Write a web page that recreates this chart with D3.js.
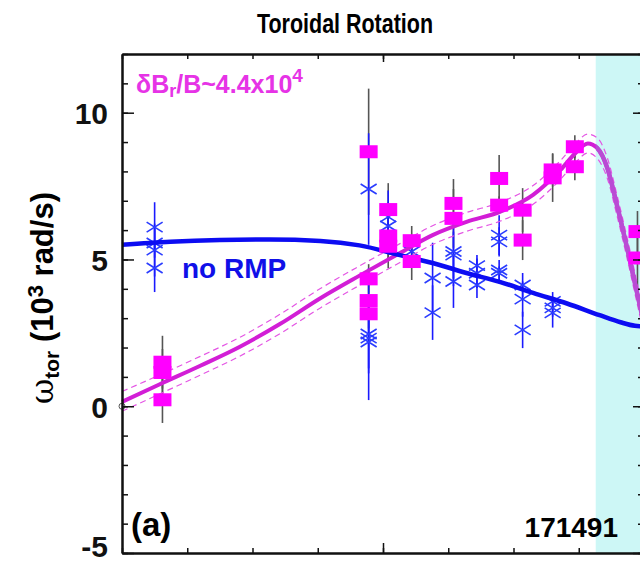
<!DOCTYPE html>
<html>
<head>
<meta charset="utf-8">
<script src="https://cdn.jsdelivr.net/npm/d3@7"></script>
<style>
  body { margin: 0; background: #fff; }
  svg { display: block; font-family: 'Liberation Sans', Arial, Helvetica, sans-serif; font-weight: bold; }
</style>
</head>
<body>
<div id="chart"></div>
<script>
'use strict'

// fitted profiles, x is normalized flux
var fitRmpPsi = [0.600, 0.629, 0.660, 0.690, 0.721, 0.752, 0.782, 0.813, 0.838, 0.864, 0.890, 0.915, 0.936, 0.947, 0.957, 0.964, 0.972, 0.979, 0.987, 0.994, 1.000]
var fitRmp = [0.15, 0.75, 1.38, 2.02, 2.8, 3.68, 4.45, 5.22, 5.83, 6.28, 6.63, 7.2, 8.05, 8.6, 8.95, 8.8, 8.1, 6.9, 5.4, 4.0, 2.8]
var fitRmpHi = [0.5, 1.07, 1.7, 2.34, 3.13, 4.01, 4.78, 5.54, 6.15, 6.6, 6.95, 7.52, 8.37, 8.92, 9.27, 9.15, 8.45, 7.25, 5.75, 4.35, 3.15]
var fitRmpLo = [-0.17, 0.42, 1.06, 1.7, 2.47, 3.35, 4.12, 4.9, 5.51, 5.96, 6.31, 6.88, 7.73, 8.28, 8.63, 8.45, 7.75, 6.55, 5.05, 3.65, 2.45]

var fitNoRmpPsi = [0.600, 0.637, 0.675, 0.713, 0.752, 0.782, 0.813, 0.838, 0.864, 0.890, 0.915, 0.941, 0.966, 0.982, 0.993, 1.000]
var fitNoRmp = [5.5, 5.6, 5.66, 5.68, 5.63, 5.48, 5.15, 4.88, 4.54, 4.23, 3.86, 3.5, 3.1, 2.86, 2.74, 2.72]

// measured points, no RMP (blue asterisks)
var noRmpPsi = [0.625, 0.625, 0.625, 0.625, 0.789, 0.789, 0.789, 0.789, 0.804, 0.804, 0.822, 0.838, 0.838, 0.854, 0.854, 0.854, 0.872, 0.872, 0.872, 0.889, 0.889, 0.889, 0.889, 0.907, 0.907, 0.907, 0.930, 0.930, 0.930]
var noRmpOmega = [6.10, 5.56, 5.32, 4.71, 7.40, 2.46, 2.32, 2.19, 6.45, 6.14, 5.27, 4.37, 3.19, 5.27, 5.15, 4.25, 4.79, 4.53, 4.13, 5.83, 5.60, 4.64, 4.53, 4.13, 3.65, 2.60, 3.57, 3.35, 3.18]
var noRmpErr = [0.85, 0.5, 0.9, 0.82, 1.9, 2.25, 1.2, 0.9, 0.9, 0.8, 0.4, 1.2, 0.93, 1.18, 0.8, 0.9, 0.36, 0.5, 0.44, 0.68, 0.5, 0.34, 0.23, 0.41, 0.6, 0.62, 0.32, 0.3, 0.5]

// measured points with RMP (magenta squares)
var rmpPsi = [0.631, 0.631, 0.631, 0.789, 0.789, 0.789, 0.789, 0.804, 0.804, 0.804, 0.822, 0.822, 0.854, 0.854, 0.889, 0.889, 0.907, 0.907, 0.930, 0.930, 0.947, 0.947, 0.995, 0.995]
var rmpOmega = [1.50, 1.15, 0.22, 8.67, 4.34, 3.60, 3.15, 6.70, 5.80, 5.45, 5.64, 4.93, 6.91, 6.40, 7.76, 6.85, 6.68, 5.66, 8.05, 7.78, 8.84, 8.16, 5.95, 5.05]
var rmpErr = [0.9, 0.8, 0.79, 2.15, 0.5, 0.6, 0.5, 0.9, 0.8, 0.75, 0.5, 0.63, 0.83, 1.0, 0.8, 0.3, 0.75, 0.68, 0.57, 0.82, 0.39, 0.46, 0.7, 0.98]

var originPoint = [0.6, 0]
var edgeRegion = [0.963, 1.0]

var yMajorTicks = [-5, 0, 5, 10]
var xMajorTicks = [0.8]

var margin = { top: 54, right: 0, bottom: 10, left: 122 }
var width = 522
var height = 499

var svg = d3
  .select('#chart')
  .append('svg')
  .attr('width', 640)
  .attr('height', 563)

var g = svg
  .append('g')
  .attr('transform', 'translate(' + margin.left + ',' + margin.top + ')')

var x = d3
  .scaleLinear()
  .domain([0.6, 1.0])
  .range([0, width])

var y = d3
  .scaleLinear()
  .domain([-5, 12])
  .range([height, 0])

// shaded edge region
g.append('rect')
  .attr('x', x(edgeRegion[0]))
  .attr('y', 0)
  .attr('width', x(edgeRegion[1]) - x(edgeRegion[0]))
  .attr('height', height)
  .attr('fill', '#cdf7f6')

g.append('clipPath')
  .attr('id', 'edgeClip')
  .append('rect')
  .attr('x', x(edgeRegion[0]))
  .attr('y', 0)
  .attr('width', x(edgeRegion[1]) - x(edgeRegion[0]))
  .attr('height', height)

function zip(xs, ys) {
  return xs.map(function(v, i) {
    return [v, ys[i]]
  })
}

var line = d3
  .line()
  .x(function(d) {
    return x(d[0])
  })
  .y(function(d) {
    return y(d[1])
  })
  .curve(d3.curveMonotoneX)

function points(ps, os, es) {
  return ps.map(function(p, i) {
    return { psi: p, omega: os[i], err: es[i] }
  })
}
var noRmpData = points(noRmpPsi, noRmpOmega, noRmpErr)
var rmpData = points(rmpPsi, rmpOmega, rmpErr)

// error bars
g.selectAll('.errRmp')
  .data(rmpData)
  .enter()
  .append('line')
  .attr('class', 'errRmp')
  .attr('x1', function(d) { return x(d.psi) })
  .attr('x2', function(d) { return x(d.psi) })
  .attr('y1', function(d) { return y(d.omega - d.err) })
  .attr('y2', function(d) { return y(d.omega + d.err) })
  .attr('stroke', '#555')
  .attr('stroke-width', 1.6)

g.selectAll('.errNo')
  .data(noRmpData)
  .enter()
  .append('line')
  .attr('class', 'errNo')
  .attr('x1', function(d) { return x(d.psi) })
  .attr('x2', function(d) { return x(d.psi) })
  .attr('y1', function(d) { return y(d.omega - d.err) })
  .attr('y2', function(d) { return y(d.omega + d.err) })
  .attr('stroke', '#1a1aff')
  .attr('stroke-width', 1.6)

g.selectAll('.star')
  .data(noRmpData)
  .enter()
  .append('path')
  .attr('class', 'star')
  .attr('transform', function(d) {
    return 'translate(' + x(d.psi) + ',' + y(d.omega) + ')'
  })
  .attr('d', 'M-8,-5L8,5M-8,5L8,-5')
  .attr('stroke', '#2a3cff')
  .attr('stroke-width', 1.6)
  .attr('fill', 'none')

// magenta fit with its uncertainty band
;[fitRmpHi, fitRmpLo].forEach(function(band) {
  g.append('path')
    .datum(zip(fitRmpPsi, band))
    .attr('d', line)
    .attr('fill', 'none')
    .attr('stroke', '#e455e4')
    .attr('stroke-width', 1.2)
    .attr('stroke-dasharray', '6,4')
})

g.append('path')
  .datum(zip(fitRmpPsi, fitRmp))
  .attr('d', line)
  .attr('fill', 'none')
  .attr('stroke', '#d21ed6')
  .attr('stroke-width', 4)

// the fit looks more violet over the shaded band
g.append('path')
  .datum(zip(fitRmpPsi, fitRmp))
  .attr('d', line)
  .attr('clip-path', 'url(#edgeClip)')
  .attr('fill', 'none')
  .attr('stroke', '#b94bd4')
  .attr('stroke-width', 4.5)

g.append('path')
  .datum(zip(fitNoRmpPsi, fitNoRmp))
  .attr('d', line)
  .attr('fill', 'none')
  .attr('stroke', '#0c0cf2')
  .attr('stroke-width', 4.5)

g.selectAll('.sq')
  .data(rmpData)
  .enter()
  .append('rect')
  .attr('class', 'sq')
  .attr('x', function(d) { return x(d.psi) - 9 })
  .attr('y', function(d) { return y(d.omega) - 6.5 })
  .attr('width', 18)
  .attr('height', 13)
  .attr('fill', '#ff00ff')

g.append('circle')
  .attr('cx', x(originPoint[0]))
  .attr('cy', y(originPoint[1]))
  .attr('r', 3)
  .attr('fill', 'none')
  .attr('stroke', '#555')
  .attr('stroke-width', 1)

// axes, ticks pointing inward
function styleAxis(sel) {
  sel.select('.domain').attr('stroke', '#111').attr('stroke-width', 2)
  sel.selectAll('.tick line').attr('stroke', '#111').attr('stroke-width', 1.5)
  sel.selectAll('text').attr('font-size', '30px').attr('fill', '#111')
}

var yMinor = d3.range(-5, 13, 1)
var xMinor = d3.range(0.6, 1.001, 0.05)

g.append('g')
  .call(d3.axisLeft(y).tickValues(yMinor).tickSize(-6).tickSizeOuter(0).tickFormat(''))
  .call(styleAxis)
g.append('g')
  .call(
    d3
      .axisLeft(y)
      .tickValues(yMajorTicks)
      .tickSize(-12)
      .tickSizeOuter(0)
      .tickPadding(14)
      .tickFormat(function(d) {
        return String(d)
      })
  )
  .call(styleAxis)
  .selectAll('text')
  .attr('dy', function(d) {
    // the lowest label would run off the bottom edge
    return d === -5 ? '0.12em' : '0.36em'
  })

g.append('g')
  .attr('transform', 'translate(' + width + ',0)')
  .call(d3.axisRight(y).tickValues(yMinor).tickSize(-6).tickSizeOuter(0).tickFormat(''))
  .call(styleAxis)
g.append('g')
  .attr('transform', 'translate(' + width + ',0)')
  .call(d3.axisRight(y).tickValues(yMajorTicks).tickSize(-11).tickSizeOuter(0).tickFormat(''))
  .call(styleAxis)

g.append('g')
  .attr('transform', 'translate(0,' + height + ')')
  .call(d3.axisBottom(x).tickValues(xMinor).tickSize(-5).tickSizeOuter(0).tickFormat(''))
  .call(styleAxis)
g.append('g')
  .attr('transform', 'translate(0,' + height + ')')
  .call(d3.axisBottom(x).tickValues(xMajorTicks).tickSize(-10).tickSizeOuter(0).tickFormat(''))
  .call(styleAxis)

g.append('g')
  .call(d3.axisTop(x).tickValues(xMinor).tickSize(-5).tickSizeOuter(0).tickFormat(''))
  .call(styleAxis)
g.append('g')
  .call(d3.axisTop(x).tickValues(xMajorTicks).tickSize(-8).tickSizeOuter(0).tickFormat(''))
  .call(styleAxis)

// labels
svg.append('text')
  .attr('x', 345)
  .attr('y', 33)
  .attr('text-anchor', 'middle')
  .attr('font-size', '27px')
  .attr('textLength', 176)
  .attr('lengthAdjust', 'spacingAndGlyphs')
  .text('Toroidal Rotation')

var yl = svg
  .append('text')
  .attr('transform', 'translate(53,298) rotate(-90)')
  .attr('text-anchor', 'middle')
  .attr('font-size', '31px')
yl.append('tspan').attr('font-family', 'DejaVu Serif').attr('font-weight', 'normal').text('ω')
yl.append('tspan').attr('font-size', '21px').attr('dy', 6).text('tor')
yl.append('tspan').attr('dy', -6).text(' (10')
yl.append('tspan').attr('font-size', '22px').attr('dy', -10).text('3')
yl.append('tspan').attr('dy', 10).text(' rad/s)')

var db = svg
  .append('text')
  .attr('x', 136)
  .attr('y', 93)
  .attr('font-size', '25px')
  .attr('fill', '#e633e6')
db.append('tspan').text('δB')
db.append('tspan').attr('font-size', '18px').attr('dy', 4).text('r')
db.append('tspan').attr('dy', -4).text('/B~4.4x10')
db.append('tspan').attr('font-size', '19px').attr('dy', -11).text('4')

svg.append('text')
  .attr('x', 182)
  .attr('y', 278)
  .attr('font-size', '28px')
  .attr('fill', '#1010e8')
  .text('no RMP')

svg.append('text')
  .attr('x', 131)
  .attr('y', 536)
  .attr('font-size', '33px')
  .text('(a)')

svg.append('text')
  .attr('x', 618)
  .attr('y', 537)
  .attr('text-anchor', 'end')
  .attr('font-size', '28px')
  .text('171491')
</script>
</body>
</html>
